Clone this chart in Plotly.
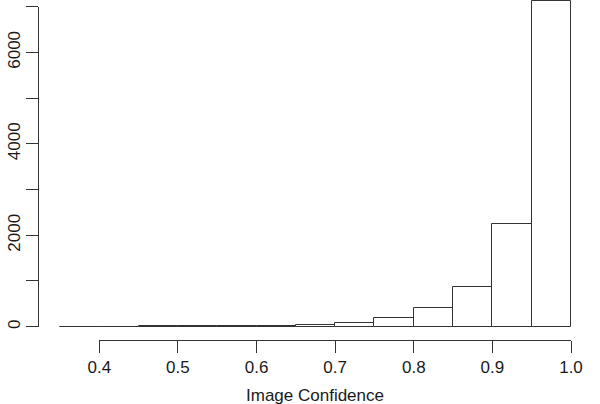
import plotly.graph_objects as go

# ---- data ----
bin_left = [0.35, 0.40, 0.45, 0.50, 0.55, 0.60, 0.65, 0.70, 0.75, 0.80, 0.85, 0.90, 0.95]
counts = [2, 4, 8, 6, 12, 25, 45, 90, 190, 420, 860, 2250, 7120]
bin_width = 0.05
x_tick_vals = [0.4, 0.5, 0.6, 0.7, 0.8, 0.9, 1.0]
x_tick_text = ["0.4", "0.5", "0.6", "0.7", "0.8", "0.9", "1.0"]
y_tick_vals = [0, 1000, 2000, 3000, 4000, 5000, 6000, 7000]
y_tick_text = ["0", "", "2000", "", "4000", "", "6000", ""]
x_title = "Image Confidence"

# ---- geometry (pixels in the 600x404 canvas) ----
W, H = 600, 404
PX_X04, PX_X10 = 99.3, 571.0      # pixel of x=0.4 and x=1.0
PY_Y0, PY_Y7000 = 326.7, 6.7      # pixel of y=0 and y=7000
AXIS_X_PY = 340.0                 # detached x axis line
AXIS_Y_PX = 38.3                  # detached y axis line

kx = (PX_X10 - PX_X04) / 0.6
ky = (PY_Y0 - PY_Y7000) / 7000.0
main_xrange = [0.4 - PX_X04 / kx, 0.4 + (W - PX_X04) / kx]
main_yrange = [-(H - PY_Y0) / ky, PY_Y0 / ky]

LINE = "#333333"
TEXT = "#1a1a1a"
FONT = "Liberation Sans, Arial, Helvetica, sans-serif"

centers = [b + bin_width / 2 for b in bin_left]

fig = go.Figure()
fig.add_trace(go.Bar(
    x=centers, y=counts, width=[bin_width] * len(centers),
    marker=dict(color="white", line=dict(color=LINE, width=1)),
    showlegend=False, hoverinfo="x+y",
))
# invisible trace carrying the detached R-style axes
fig.add_trace(go.Scatter(
    x=[x_tick_vals[0]], y=[y_tick_vals[0]], xaxis="x2", yaxis="y2",
    mode="markers", marker=dict(opacity=0), showlegend=False, hoverinfo="skip",
))

fig.update_layout(
    width=W, height=H,
    margin=dict(l=0, r=0, t=0, b=0),
    paper_bgcolor="white", plot_bgcolor="rgba(0,0,0,0)",
    font=dict(family=FONT, size=17, color=TEXT),
    bargap=0,
    xaxis=dict(domain=[0, 1], range=main_xrange, visible=False, fixedrange=True),
    yaxis=dict(domain=[0, 1], range=main_yrange, visible=False, fixedrange=True),
    xaxis2=dict(
        domain=[PX_X04 / W, PX_X10 / W], range=[0.4, 1.0],
        anchor="free", position=1 - AXIS_X_PY / H,
        showline=True, linecolor=LINE, linewidth=1,
        ticks="outside", ticklen=12, tickwidth=1, tickcolor=LINE,
        tickvals=x_tick_vals, ticktext=x_tick_text,
        showgrid=False, zeroline=False, automargin=False, fixedrange=True,
    ),
    yaxis2=dict(
        domain=[1 - PY_Y0 / H, 1 - PY_Y7000 / H], range=[0, 7000],
        anchor="free", position=AXIS_Y_PX / W,
        showline=True, linecolor=LINE, linewidth=1,
        ticks="outside", ticklen=12, tickwidth=1, tickcolor=LINE,
        tickvals=y_tick_vals, ticktext=y_tick_text, tickangle=-90,
        showgrid=False, zeroline=False, automargin=False, fixedrange=True,
    ),
    annotations=[dict(
        text=x_title, xref="paper", yref="paper",
        x=315.3 / W, y=1 - 395 / H, xanchor="center", yanchor="middle",
        showarrow=False, font=dict(family=FONT, size=17, color=TEXT),
    )],
)

fig.write_html(
    "out.html",
    config={"displayModeBar": False},
    post_script="document.body.style.margin='0';document.body.style.overflow='hidden';",
)
